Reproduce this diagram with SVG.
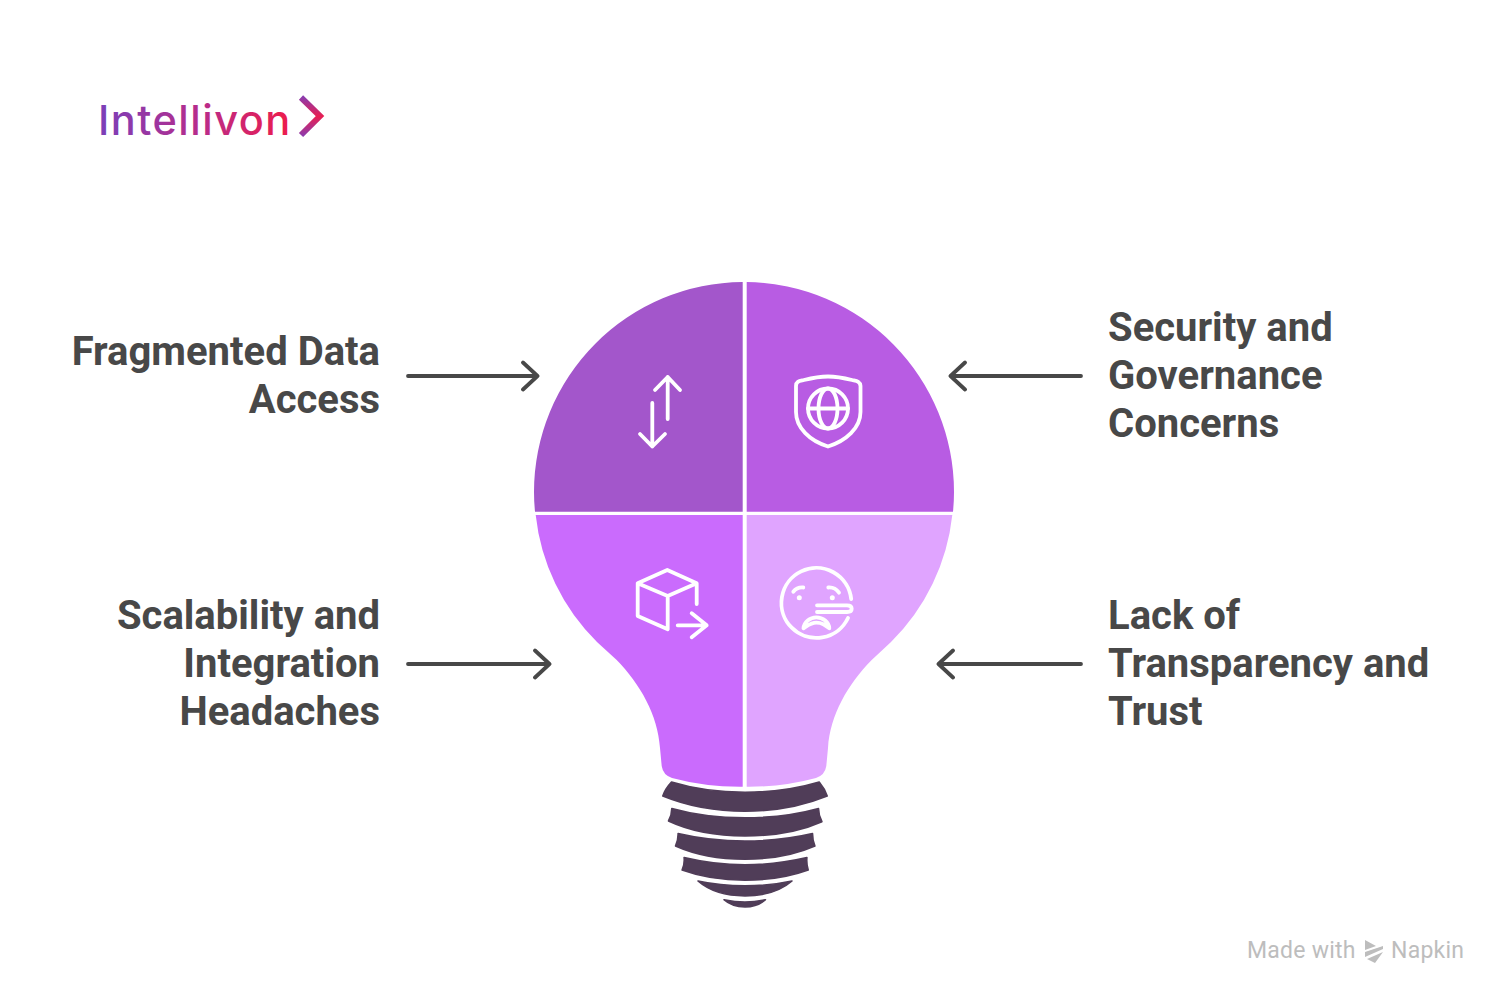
<svg xmlns="http://www.w3.org/2000/svg" width="1512" height="1006" viewBox="0 0 1512 1006">
<style>
.lbl{font-family:"Roboto","Liberation Sans",sans-serif;font-weight:700;font-size:40px;fill:#484848}
.ic{fill:none;stroke:#fff;stroke-width:3.8;stroke-linecap:round;stroke-linejoin:round}
.base{fill:#503d58;stroke:#503d58;stroke-width:1.6;stroke-linejoin:round}
.conn{fill:none;stroke:#484848;stroke-width:3.8;stroke-linecap:round;stroke-linejoin:round}
.foot{font-family:"Roboto","Liberation Sans",sans-serif;font-size:23px;letter-spacing:.25px;fill:#bdbdbd}
</style>
<defs>
<linearGradient id="lg" gradientUnits="userSpaceOnUse" x1="100" y1="0" x2="292" y2="0">
<stop offset="0" stop-color="#7b3fb8"/><stop offset="0.55" stop-color="#bb2b88"/><stop offset="1" stop-color="#ee1c4a"/>
</linearGradient>
<linearGradient id="lc" gradientUnits="userSpaceOnUse" x1="0" y1="97" x2="0" y2="136">
<stop offset="0" stop-color="#8b3cae"/><stop offset="0.5" stop-color="#e81f52"/><stop offset="1" stop-color="#8b3cae"/>
</linearGradient>
</defs>
<rect width="1512" height="1006" fill="#fff"/>
<g id="logo">
<text x="98" y="135" font-family="Inter,'Open Sans',sans-serif" font-size="41.500" font-weight="500" letter-spacing="1.500" fill="url(#lg)">Intellivon</text>
<path d="M301 97.500 L320 116 L301 135" fill="none" stroke="url(#lc)" stroke-width="6"/>
</g>
<g id="q-tl">
<path d="M742.700 282 A210 210 0 0 0 534 492 Q534 502 535 511.700 H742.700 Z" fill="#a356cb"/>
<path class="ic" d="M667.700 419V377M655 390L667.700 377L680 390M652.300 403V446.500M640 434L652.300 446.500L665 434"/>
<text class="lbl" text-anchor="end" x="380" y="365">Fragmented Data</text>
<text class="lbl" text-anchor="end" x="380" y="413">Access</text>
</g>
<g id="q-tr">
<path d="M746.700 282 A210 210 0 0 1 954 492 Q954 502 953 511.700 H746.700 Z" fill="#b85ce3"/>
<path class="ic" d="M796 386C796 381 800 381 804 380C812 378 820 376.500 828 376.500C836 376.500 844 378 852 380C856 381 860 381 860.500 386V412C860.500 428 846 441 828 446.500C810 441 796 428 796 412Z"/>
<circle class="ic" cx="828" cy="408.500" r="20"/>
<ellipse class="ic" cx="828" cy="408.500" rx="9.500" ry="20"/>
<path class="ic" d="M808 408.500H848"/>
<text class="lbl" x="1108" y="341">Security and</text>
<text class="lbl" x="1108" y="389">Governance</text>
<text class="lbl" x="1108" y="437">Concerns</text>
</g>
<g id="q-bl">
<path d="M742.700 515 H535.700 A210 210 0 0 0 597 642 L616.700 660 C640 684 658 715 660 748 L661.700 766 Q663 775 672 778 Q705 787 742.700 786.700 Z" fill="#ca6bfd"/>
<path class="ic" d="M667.300 570L637.700 583.300L667.700 596L696.700 583.300ZM637.700 583.300V616L667.700 629.300V596M696.700 583.300V604M677.700 625.300H706.700M691.700 613.300L706.700 625.300L691.700 637.300"/>
<text class="lbl" text-anchor="end" x="380" y="629">Scalability and</text>
<text class="lbl" text-anchor="end" x="380" y="677">Integration</text>
<text class="lbl" text-anchor="end" x="380" y="725">Headaches</text>
</g>
<g id="q-br">
<path d="M746.700 515 H952.300 A210 210 0 0 1 891 642 L871.700 660 C848 684 830 715 828 748 L826.300 766 Q825 775 816 778 Q783 787 746.700 786.700 Z" fill="#e0a4ff"/>
<path class="ic" d="M851.200 599A35 35 0 1 0 848 618" stroke-width="3.400"/>
<path class="ic" d="M817 605.300H847Q851.700 605.300 851.700 608.700Q851.700 612 847 612H817"/>
<path class="ic" d="M793.300 591.700Q797 587 803.300 587.500M828.300 587.500Q835 587 839 592.700"/>
<circle cx="799.300" cy="597.700" r="2.500" fill="#fff"/><circle cx="832.300" cy="597.700" r="2.500" fill="#fff"/>
<path class="ic" d="M803.500 628.300C804 622 810 617.300 816.300 617.300C823 617.300 829 622 829.300 628.300C825 625 822 622.700 816.300 622.700C811 622.700 808 625.500 803.500 628.300Z"/>
<text class="lbl" x="1108" y="629">Lack of</text>
<text class="lbl" x="1108" y="677">Transparency and</text>
<text class="lbl" x="1108" y="725">Trust</text>
</g>
<g id="base">
<path class="base" d="M671.500 782Q705 792.200 745 792.200Q785 792.200 819.200 782Q825 789 827.200 796Q790 811.200 745 811.200Q700 811.200 662.800 796Q665 789 671.500 782Z"/>
<path class="base" d="M671.800 808.500Q705 817.800 745 817.800Q785 817.800 818.500 808.500Q818.500 815 821.900 821.700Q790 835.900 745 835.900Q700 835.900 668.500 821Q671.800 815 671.800 808.500Z"/>
<path class="base" d="M678.100 833.500Q710 841 745 841Q780 841 812.500 833.500Q812.500 840 814.900 846Q785 859.200 745 859.200Q705 859.200 675.500 846Q678.300 840 678.100 833.500Z"/>
<path class="base" d="M684.100 857.500Q715 864.800 745 864.800Q775 864.800 806.900 857.500Q806.300 864 808.200 870Q780 880.200 745 880.200Q710 880.200 682.100 870Q684.800 864 684.100 857.500Z"/>
<path class="base" d="M698 881Q720 885.800 745 885.800Q770 885.800 792 881Q775 895.900 745 895.900Q715 895.900 698 881Z"/>
<path class="base" d="M724 899.700Q735 902 745 902Q755 902 765.500 899.700Q757 906.900 745 906.900Q732 906.900 724 899.700Z"/>
</g>
<g id="connectors">
<path class="conn" d="M408 376H537.500M523 362.500L537.500 376L523 389.500"/>
<path class="conn" d="M1081 376H950.500M965 362.500L950.500 376L965 389.500"/>
<path class="conn" d="M408 664H549.500M535 650.500L549.500 664L535 677.500"/>
<path class="conn" d="M1081 664H938.500M953 650.500L938.500 664L953 677.500"/>
</g>
<g id="footer">
<text class="foot" x="1247" y="958">Made with</text>
<path d="M1365 940L1376 946L1365 950ZM1365 952L1383 946L1383 949L1365 957ZM1367 959L1383 952L1375 963Z" fill="#bdbdbd"/>
<text class="foot" x="1391" y="958">Napkin</text>
</g>
</svg>
